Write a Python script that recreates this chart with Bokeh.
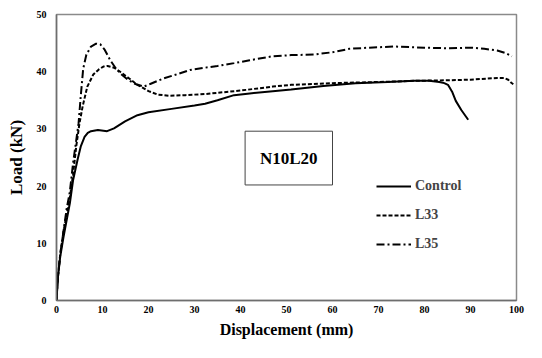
from bokeh.plotting import figure
from bokeh.models import Range1d, Legend, LegendItem, FixedTicker
from bokeh.core.properties import value
from bokeh.embed import file_html
from bokeh.resources import INLINE

# ---- data ----
control_x = [0, 0.3, 0.8, 1.5, 2.2, 2.9, 3.6, 4.6, 5.3, 6.1, 6.8, 7.5, 9, 11, 12.5, 14.9, 17.6, 20, 25, 30, 32.3, 35, 38.6, 42, 47, 51, 58, 65, 72, 77.8, 81, 83.2, 84.3, 85.1, 86, 86.8, 88, 89.5]
control_y = [0, 4, 7.6, 11, 14, 17, 21, 24.7, 27, 28.6, 29.3, 29.6, 29.8, 29.6, 30.1, 31.3, 32.4, 32.9, 33.5, 34.1, 34.4, 35.0, 35.9, 36.2, 36.6, 36.9, 37.5, 38.0, 38.2, 38.4, 38.4, 38.2, 38.0, 37.7, 36.5, 34.9, 33.3, 31.6]

l33_x = [0, 0.3, 0.8, 1.5, 2.2, 2.9, 3.6, 4.3, 5.0, 5.7, 6.7, 8.0, 9.2, 10.2, 11.1, 12.5, 14, 15.5, 17.6, 20, 22, 24.5, 28, 32.3, 40, 47, 51, 60, 70, 77.8, 85, 90, 95.8, 97.3, 98.2, 98.8, 99.3]
l33_y = [0, 4, 8, 12, 15, 18, 22, 27, 31, 34, 37.4, 39.5, 40.4, 40.9, 41.0, 40.7, 39.9, 39.0, 37.7, 36.6, 36.0, 35.8, 35.9, 36.1, 36.7, 37.4, 37.7, 38.0, 38.2, 38.4, 38.5, 38.6, 38.9, 38.9, 38.6, 38.1, 37.8]

l35_x = [0, 0.3, 0.8, 1.5, 2.2, 2.9, 3.6, 4.2, 4.8, 5.3, 5.8, 6.5, 7.5, 8.6, 9.5, 10.5, 11.7, 12.8, 14, 15.5, 17, 19, 20.5, 23.2, 26, 29, 32.3, 35, 38.6, 42, 47, 51, 56, 60, 63.7, 68, 73.6, 80, 85, 90.4, 93, 95.8, 97.5, 99]
l35_y = [0, 4, 8, 12, 16, 19, 24, 27.5, 31, 36, 40.5, 43.0, 44.4, 44.9, 44.8, 43.8, 42.0, 40.7, 39.6, 38.6, 37.9, 37.4, 37.9, 38.8, 39.5, 40.3, 40.7, 41.0, 41.5, 42.0, 42.7, 42.9, 43.0, 43.4, 44.0, 44.2, 44.4, 44.2, 44.1, 44.2, 44.0, 43.7, 43.3, 42.7]

series_names = ["Control", "L33", "L35"]
x_ticks = [0, 10, 20, 30, 40, 50, 60, 70, 80, 90, 100]
y_ticks = [0, 10, 20, 30, 40, 50]
box_label = "N10L20"

FONT = "Times New Roman, Liberation Serif, serif"

p = figure(width=526, height=342, output_backend="svg", toolbar_location=None,
           x_range=Range1d(0, 100), y_range=Range1d(0, 50),
           min_border_left=56, min_border_right=10, min_border_top=14, min_border_bottom=42)

p.xgrid.visible = False
p.ygrid.visible = False
p.outline_line_color = "#8a8a8a"
p.outline_line_width = 1.5
p.background_fill_color = "white"
p.border_fill_color = "white"

for ax in (p.xaxis[0], p.yaxis[0]):
    ax.axis_line_color = "#6e6e6e"
    ax.axis_line_width = 1.5
    ax.major_tick_line_color = None
    ax.minor_tick_line_color = None
    ax.major_tick_out = 0
    ax.major_tick_in = 0
    ax.major_label_text_font = FONT
    ax.major_label_text_font_style = "bold"
    ax.major_label_text_font_size = "10px"
    ax.major_label_text_color = "black"
    ax.axis_label_text_font = FONT
    ax.axis_label_text_font_style = "bold"
    ax.axis_label_text_color = "black"

p.xaxis.ticker = FixedTicker(ticks=x_ticks)
p.yaxis.ticker = FixedTicker(ticks=y_ticks)
p.xaxis.axis_label = "Displacement (mm)"
p.yaxis.axis_label = "Load (kN)"
p.xaxis.axis_label_text_font_size = "16px"
p.yaxis.axis_label_text_font_size = "17px"
p.xaxis.major_label_standoff = 5
p.yaxis.major_label_standoff = 10
p.xaxis.axis_label_standoff = 5
p.yaxis.axis_label_standoff = 8

r_c = p.line(control_x, control_y, line_color="black", line_width=2)
r_33 = p.line(l33_x, l33_y, line_color="black", line_width=2, line_dash="4 2")
r_35 = p.line(l35_x, l35_y, line_color="black", line_width=2, line_dash="8 3 2 3")

# labelled box
p.quad(left=[41.0], right=[60.0], bottom=[20.2], top=[29.6],
       fill_color="white", line_color="#444444", line_width=1)
p.text(x=[50.5], y=[24.9], text=[box_label], text_font=value(FONT),
       text_font_style="bold", text_font_size="17px", text_align="center",
       text_baseline="middle", text_color="black")

legend = Legend(items=[LegendItem(label=series_names[0], renderers=[r_c]),
                       LegendItem(label=series_names[1], renderers=[r_33]),
                       LegendItem(label=series_names[2], renderers=[r_35])],
                location=(320, 46))
legend.border_line_color = None
legend.background_fill_alpha = 0
legend.label_text_font = FONT
legend.label_text_font_style = "bold"
legend.label_text_font_size = "14px"
legend.glyph_width = 35
legend.glyph_height = 20
legend.spacing = 9
legend.padding = 0
legend.margin = 0
legend.label_standoff = 4
p.add_layout(legend)

open("out.html", "w").write(file_html(p, INLINE))
